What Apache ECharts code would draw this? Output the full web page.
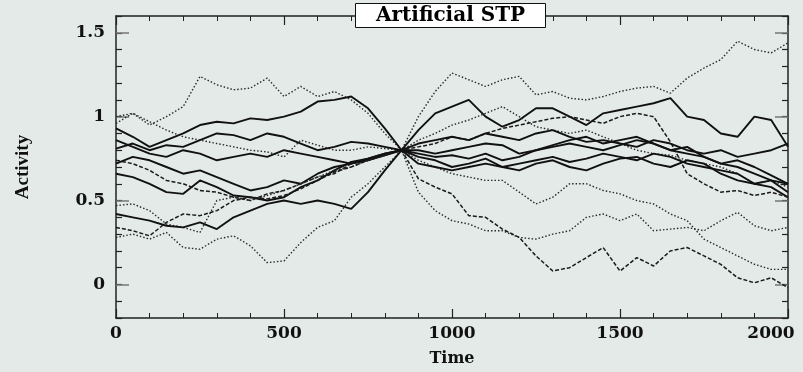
<!DOCTYPE html>
<html><head><meta charset="utf-8">
<script src="https://cdn.jsdelivr.net/npm/echarts@6/dist/echarts.min.js"></script>
<style>html,body{margin:0;padding:0;background:#e3eae7}#c{width:803px;height:372px}</style>
</head><body><div id="c"></div>
<script>
// time samples (every 50 units)
const times = [0,50,100,150,200,250,300,350,400,450,500,550,600,650,700,750,800,850,
  900,950,1000,1050,1100,1150,1200,1250,1300,1350,1400,1450,1500,1550,1600,1650,1700,1750,1800,1850,1900,1950,2000];
// tick labels
const yMajorTicks = [0,0.5,1,1.5];
const yMinorTicks = [-0.2,-0.1,0,0.1,0.2,0.3,0.4,0.5,0.6,0.7,0.8,0.9,1,1.1,1.2,1.3,1.4,1.5,1.6];
const xTicks = [0,500,1000,1500,2000];

// left part t=0..850
const L1 = [1.0,1.02,0.95,1.0,1.06,1.24,1.19,1.16,1.17,1.23,1.12,1.18,1.12,1.15,1.1,1.02,0.9,0.8];
const L2 = [0.93,0.88,0.82,0.86,0.9,0.95,0.97,0.96,0.99,0.98,1.0,1.03,1.09,1.1,1.12,1.05,0.93,0.8];
const L3 = [0.96,1.02,0.97,0.92,0.88,0.86,0.84,0.82,0.8,0.79,0.76,0.86,0.83,0.8,0.8,0.82,0.81,0.8];
const L4 = [0.81,0.84,0.8,0.83,0.82,0.86,0.9,0.89,0.86,0.9,0.88,0.84,0.8,0.82,0.85,0.84,0.82,0.8];
const L5 = [0.72,0.76,0.74,0.7,0.66,0.68,0.64,0.6,0.56,0.58,0.62,0.6,0.66,0.7,0.72,0.74,0.77,0.8];
const L6 = [0.66,0.64,0.6,0.55,0.54,0.62,0.58,0.53,0.52,0.5,0.52,0.58,0.62,0.68,0.73,0.75,0.78,0.8];
const L7 = [0.74,0.72,0.68,0.62,0.6,0.56,0.55,0.52,0.5,0.54,0.56,0.6,0.64,0.66,0.72,0.74,0.78,0.8];
const L8 = [0.47,0.48,0.44,0.36,0.34,0.31,0.5,0.52,0.5,0.53,0.56,0.6,0.64,0.68,0.7,0.74,0.77,0.8];
const L9 = [0.28,0.3,0.27,0.31,0.22,0.21,0.27,0.29,0.23,0.13,0.14,0.25,0.34,0.38,0.52,0.6,0.7,0.8];
const L10 = [0.34,0.32,0.29,0.37,0.42,0.41,0.44,0.5,0.52,0.51,0.53,0.57,0.62,0.67,0.7,0.74,0.77,0.8];
const L11 = [0.42,0.4,0.38,0.35,0.34,0.37,0.33,0.4,0.44,0.48,0.5,0.48,0.5,0.48,0.45,0.55,0.68,0.8];
const L12 = [0.86,0.82,0.78,0.76,0.8,0.78,0.74,0.76,0.78,0.76,0.8,0.78,0.76,0.74,0.72,0.75,0.78,0.8];
// right part t=850..2000
const R1 = [0.8,1.0,1.15,1.26,1.22,1.18,1.22,1.24,1.13,1.15,1.11,1.1,1.12,1.15,1.17,1.18,1.14,1.23,1.29,1.34,1.45,1.4,1.38,1.44];
const R2 = [0.8,0.92,1.02,1.06,1.1,1.0,0.94,0.98,1.05,1.05,1.0,0.95,1.02,1.04,1.06,1.08,1.11,1.0,0.98,0.9,0.88,1.0,0.98,0.82];
const R3 = [0.8,0.86,0.9,0.95,0.98,1.02,1.06,1.0,0.94,0.92,0.9,0.92,0.88,0.84,0.8,0.78,0.77,0.74,0.72,0.7,0.66,0.6,0.62,0.58];
const R4 = [0.8,0.8,0.78,0.8,0.82,0.84,0.83,0.78,0.8,0.82,0.84,0.82,0.8,0.83,0.86,0.84,0.8,0.78,0.76,0.72,0.7,0.66,0.62,0.55];
const R5 = [0.8,0.78,0.76,0.77,0.75,0.78,0.74,0.76,0.8,0.83,0.86,0.88,0.84,0.86,0.88,0.84,0.8,0.82,0.76,0.72,0.74,0.7,0.65,0.6];
const R6 = [0.8,0.76,0.74,0.7,0.72,0.75,0.7,0.72,0.74,0.76,0.73,0.75,0.78,0.76,0.74,0.78,0.76,0.72,0.7,0.68,0.66,0.6,0.58,0.52];
const R7 = [0.8,0.82,0.84,0.88,0.86,0.9,0.93,0.95,0.97,0.99,1.0,0.98,0.96,1.0,1.02,1.0,0.85,0.66,0.6,0.55,0.56,0.53,0.55,0.52];
const R8 = [0.8,0.74,0.7,0.66,0.64,0.62,0.62,0.55,0.48,0.52,0.6,0.6,0.56,0.54,0.5,0.48,0.42,0.38,0.27,0.22,0.17,0.12,0.09,0.09];
const R9 = [0.8,0.55,0.44,0.38,0.36,0.32,0.32,0.28,0.27,0.3,0.32,0.4,0.42,0.38,0.42,0.32,0.33,0.34,0.32,0.38,0.43,0.35,0.32,0.34];
const R10 = [0.8,0.63,0.58,0.54,0.41,0.4,0.33,0.28,0.17,0.08,0.1,0.16,0.22,0.08,0.16,0.11,0.2,0.22,0.17,0.12,0.04,0.01,0.04,-0.02];
const R11 = [0.8,0.72,0.7,0.68,0.7,0.72,0.7,0.68,0.72,0.74,0.7,0.68,0.72,0.75,0.76,0.72,0.7,0.74,0.72,0.66,0.62,0.6,0.62,0.6];
const R12 = [0.8,0.84,0.86,0.88,0.86,0.9,0.88,0.86,0.9,0.92,0.88,0.85,0.86,0.84,0.82,0.86,0.84,0.8,0.78,0.8,0.76,0.78,0.8,0.84];

const lefts = [L1,L2,L3,L4,L5,L6,L7,L8,L9,L10,L11,L12];
const rights = [R1,R2,R3,R4,R5,R6,R7,R8,R9,R10,R11,R12];
const kinds = ['dotted','solid','dotted','solid','solid','solid','dashed','dotted','dotted','dashed','solid','solid'];

const styleFor = k => k === 'solid' ? {color:'#111', width:1.9, type:'solid'}
  : k === 'dashed' ? {color:'#1a1a1a', width:1.5, type:[4,2]}
  : {color:'#2a2a2a', width:1.4, type:[1.5,2]};

const series = lefts.map((L,i) => {
  const vals = L.concat(rights[i].slice(1));
  return {
    type:'line', showSymbol:false, symbol:'none', animation:false,
    xAxisIndex:0, yAxisIndex:0,
    lineStyle: styleFor(kinds[i]),
    data: times.map((t,j) => [t, vals[j]])
  };
});

const serifB = {fontFamily:'DejaVu Serif', fontWeight:'bold', color:'#111'};
const frame = {show:true, onZero:false, lineStyle:{color:'#222', width:1.5}};
const xFmt = v => v === 2000 ? '{r|' + v + '}' : String(v);

const gridBox = {left:116, right:15, top:16, bottom:54, containLabel:false, outerBoundsMode:'none'};
const chart = echarts.init(document.getElementById('c'), null, {renderer:'canvas'});
chart.setOption({
  backgroundColor:'#e3eae7',
  animation:false,
  title:{
    text:'Artificial STP', left:355, top:3,
    backgroundColor:'#fff', borderColor:'#111', borderWidth:1,
    padding:[3,21,2,21],
    textStyle:{fontFamily:'DejaVu Serif', fontWeight:'bold', fontSize:20, color:'#000'}
  },
  grid:[Object.assign({}, gridBox), Object.assign({}, gridBox)],
  xAxis:[
    {type:'value', gridIndex:0, position:'bottom', min:0, max:2000, interval:500,
     axisLine:frame,
     axisTick:{show:true, inside:true, length:9, lineStyle:{color:'#222', width:1.2}},
     minorTick:{show:true, splitNumber:5, length:5, lineStyle:{color:'#222', width:1}},
     axisLabel:Object.assign({fontSize:17, margin:7, formatter:xFmt, customValues:xTicks,
       rich:{r:Object.assign({fontSize:17, padding:[0,34,0,0]}, serifB)}}, serifB),
     splitLine:{show:false}, minorSplitLine:{show:false},
     name:'Time', nameLocation:'middle', nameGap:33,
     nameTextStyle:Object.assign({fontSize:16}, serifB)},
    {type:'value', gridIndex:0, position:'top', min:0, max:2000, interval:500,
     axisLine:frame,
     axisTick:{show:true, inside:true, length:9, lineStyle:{color:'#222', width:1.2}},
     minorTick:{show:true, splitNumber:5, length:5, lineStyle:{color:'#222', width:1}},
     axisLabel:{show:false}, splitLine:{show:false}},
    {type:'value', gridIndex:1, min:0, max:2000, show:false}
  ],
  yAxis:[
    {type:'value', gridIndex:0, position:'left', min:-0.2, max:1.6,
     axisLine:frame,
     axisTick:{show:true, inside:true, length:6, customValues:yMinorTicks, lineStyle:{color:'#222', width:1.2}},
     axisLabel:Object.assign({fontSize:17, margin:11, formatter:v => String(v), customValues:yMajorTicks}, serifB),
     splitLine:{show:false},
     name:'Activity', nameLocation:'middle', nameGap:83, nameRotate:90,
     nameTextStyle:{fontFamily:'Liberation Serif', fontWeight:'bold', fontSize:19, color:'#111'}},
    {type:'value', gridIndex:0, position:'right', min:-0.2, max:1.6,
     axisLine:frame,
     axisTick:{show:true, inside:true, length:6, customValues:yMinorTicks, lineStyle:{color:'#222', width:1.2}},
     axisLabel:{show:false}, splitLine:{show:false}},
    {type:'value', gridIndex:1, position:'left', min:-0.2, max:1.6,
     axisLine:{show:false},
     axisTick:{show:true, inside:true, length:13, customValues:yMajorTicks, lineStyle:{color:'#777', width:1.5}},
     axisLabel:{show:false}, splitLine:{show:false}},
    {type:'value', gridIndex:1, position:'right', min:-0.2, max:1.6,
     axisLine:{show:false},
     axisTick:{show:true, inside:true, length:13, customValues:yMajorTicks, lineStyle:{color:'#777', width:1.5}},
     axisLabel:{show:false}, splitLine:{show:false}}
  ],
  series: series
});
</script></body></html>
